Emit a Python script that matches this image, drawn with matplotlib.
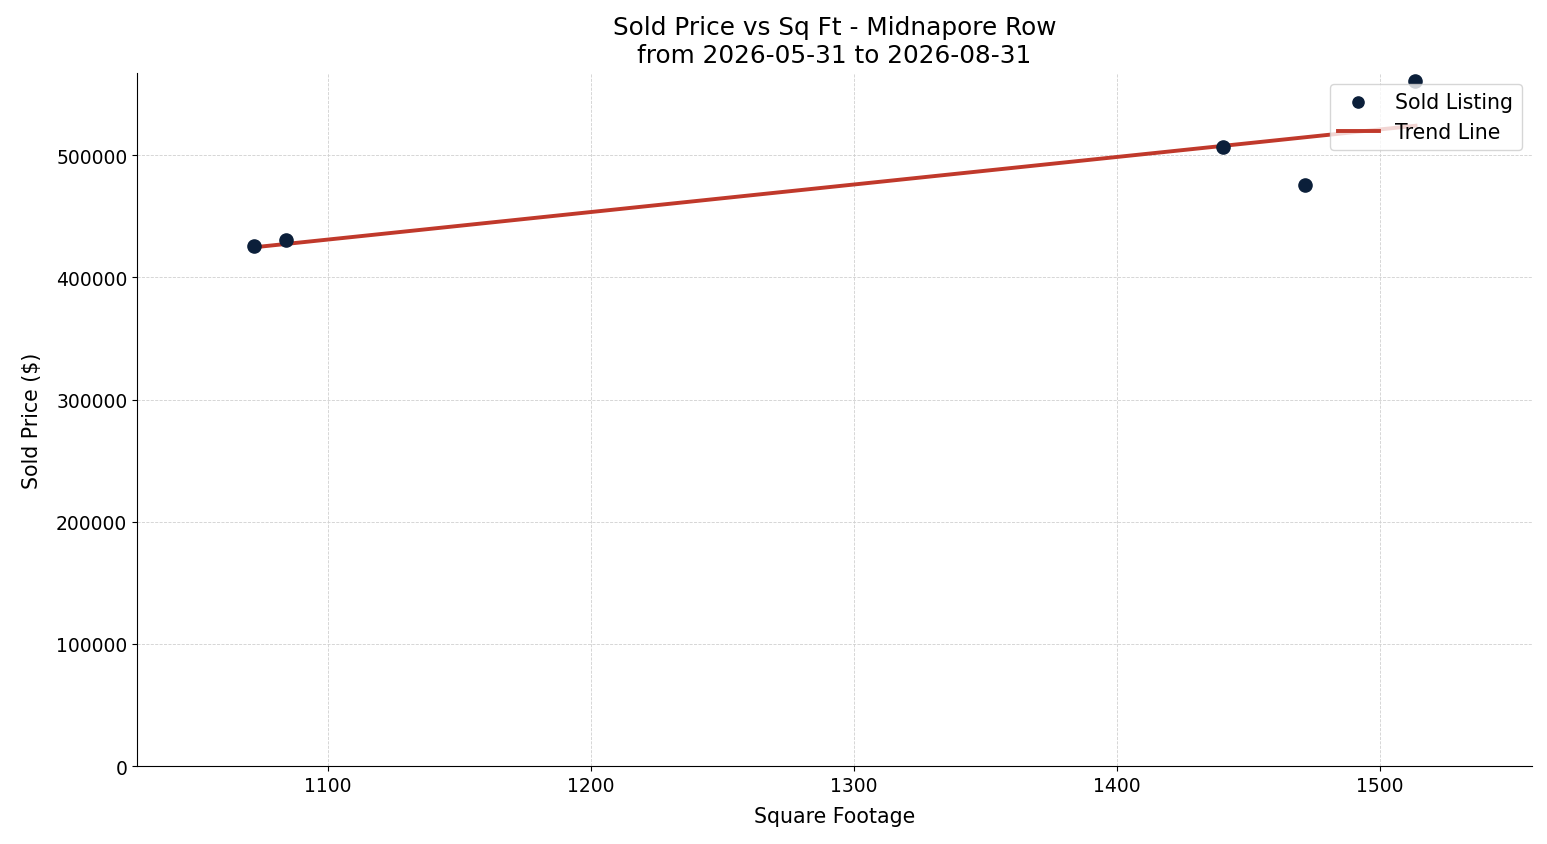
import numpy as np
import matplotlib
matplotlib.use("Agg")
import matplotlib.pyplot as plt

sqft = [1072, 1084, 1440.5, 1471.5, 1513.5]
price = [425500, 430500, 506500, 475500, 560500]

fig = plt.figure(figsize=(15.47, 8.45), dpi=100)
ax = fig.add_axes([0.0886, 0.0923, 0.9017, 0.8197])
ax.scatter(sqft, price, s=90, color="#0b1f3a", label="Sold Listing", zorder=3)
m, b = np.polyfit(sqft, price, 1)
xs = np.array([min(sqft), max(sqft)])
ax.plot(xs, m * xs + b, color="#c0392b", lw=2.8, label="Trend Line", zorder=2)
ax.set_xlim(1027.4, 1557.8)
ax.set_ylim(0, 567000)
ax.grid(True, ls="--", lw=0.6, color="#d0d0d0")
ax.set_axisbelow(True)
for s in ["top", "right"]:
    ax.spines[s].set_visible(False)
ax.tick_params(labelsize=13.5)
ax.set_xlabel("Square Footage", fontsize=14.8, labelpad=8)
ax.set_ylabel("Sold Price ($)", fontsize=14.8, labelpad=10)
ax.set_title("Sold Price vs Sq Ft - Midnapore Row\nfrom 2026-05-31 to 2026-08-31", fontsize=17.8, pad=8)
ax.legend(loc="upper right", fontsize=14.8, markerscale=0.85)
fig.savefig("out.png", dpi=100)
